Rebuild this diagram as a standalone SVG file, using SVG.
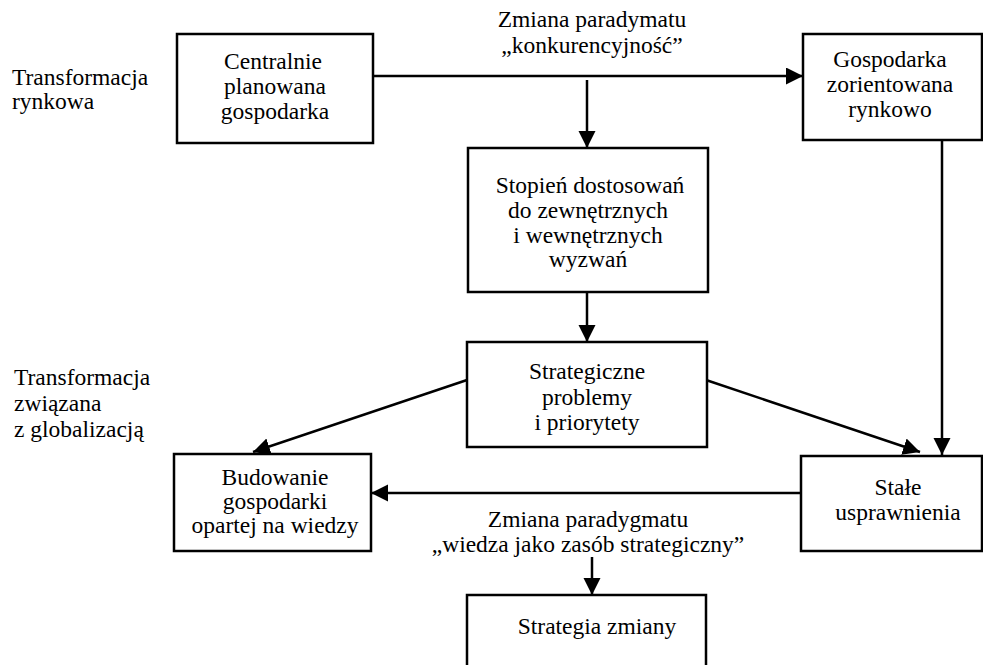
<svg xmlns="http://www.w3.org/2000/svg" width="983" height="665" viewBox="0 0 983 665">
<defs>
<marker id="ah" markerUnits="userSpaceOnUse" markerWidth="18" markerHeight="18" refX="17" refY="8.5" orient="auto">
<path d="M0,0 L17,8.5 L0,17 z" fill="#000"/>
</marker>
<style>
.box{fill:#fff;stroke:#000;stroke-width:2.5}
.t{font-family:"Liberation Serif","Times New Roman",serif;font-size:23.5px;fill:#000}
.c{text-anchor:middle}
.ar{stroke:#000;stroke-width:2.5;fill:none;marker-end:url(#ah)}
</style>
</defs>
<rect width="983" height="665" fill="#fff"/>

<g id="labels">
<text class="t" x="12" y="85">Transformacja</text>
<text class="t" x="12" y="109">rynkowa</text>
<text class="t" x="14" y="385">Transformacja</text>
<text class="t" x="14" y="411">związana</text>
<text class="t" x="14" y="437">z globalizacją</text>
<text class="t c" x="592" y="27">Zmiana paradymatu</text>
<text class="t c" x="592" y="53">„konkurencyjność”</text>
<text class="t c" x="588" y="527">Zmiana paradygmatu</text>
<text class="t c" x="588" y="552">„wiedza jako zasób strategiczny”</text>
</g>

<g id="connectors">
<line class="ar" x1="373" y1="76" x2="803" y2="76"/>
<line class="ar" x1="587" y1="80" x2="587" y2="148"/>
<line class="ar" x1="587" y1="292" x2="587" y2="342"/>
<line class="ar" x1="467" y1="380" x2="253" y2="452"/>
<line class="ar" x1="706" y1="380" x2="920" y2="452"/>
<line class="ar" x1="942" y1="140" x2="942" y2="455"/>
<line class="ar" x1="801" y1="493" x2="371" y2="493"/>
<line class="ar" x1="592" y1="557" x2="592" y2="595"/>
</g>

<g id="n1">
<rect class="box" x="177" y="34" width="196" height="109"/>
<text class="t c" x="273" y="69">Centralnie</text>
<text class="t c" x="275" y="94">planowana</text>
<text class="t c" x="275" y="119">gospodarka</text>
</g>

<g id="n2">
<rect class="box" x="803" y="34" width="179" height="106"/>
<text class="t c" x="890" y="67">Gospodarka</text>
<text class="t c" x="890" y="92">zorientowana</text>
<text class="t c" x="890" y="117">rynkowo</text>
</g>

<g id="n3">
<rect class="box" x="468" y="148" width="240" height="144"/>
<text class="t c" x="590" y="193">Stopień dostosowań</text>
<text class="t c" x="588" y="218">do zewnętrznych</text>
<text class="t c" x="588" y="243">i wewnętrznych</text>
<text class="t c" x="588" y="267">wyzwań</text>
</g>

<g id="n4">
<rect class="box" x="467" y="342" width="240" height="105"/>
<text class="t c" x="587" y="379">Strategiczne</text>
<text class="t c" x="587" y="405">problemy</text>
<text class="t c" x="587" y="430">i priorytety</text>
</g>

<g id="n5">
<rect class="box" x="174" y="454" width="197" height="97"/>
<text class="t c" x="275" y="485">Budowanie</text>
<text class="t c" x="275" y="509">gospodarki</text>
<text class="t c" x="275" y="533">opartej na wiedzy</text>
</g>

<g id="n6">
<rect class="box" x="801" y="456" width="181" height="95"/>
<text class="t c" x="898" y="495">Stałe</text>
<text class="t c" x="898" y="520">usprawnienia</text>
</g>

<g id="n7">
<rect class="box" x="467" y="595" width="239" height="80"/>
<text class="t c" x="597" y="634">Strategia zmiany</text>
</g>
</svg>
